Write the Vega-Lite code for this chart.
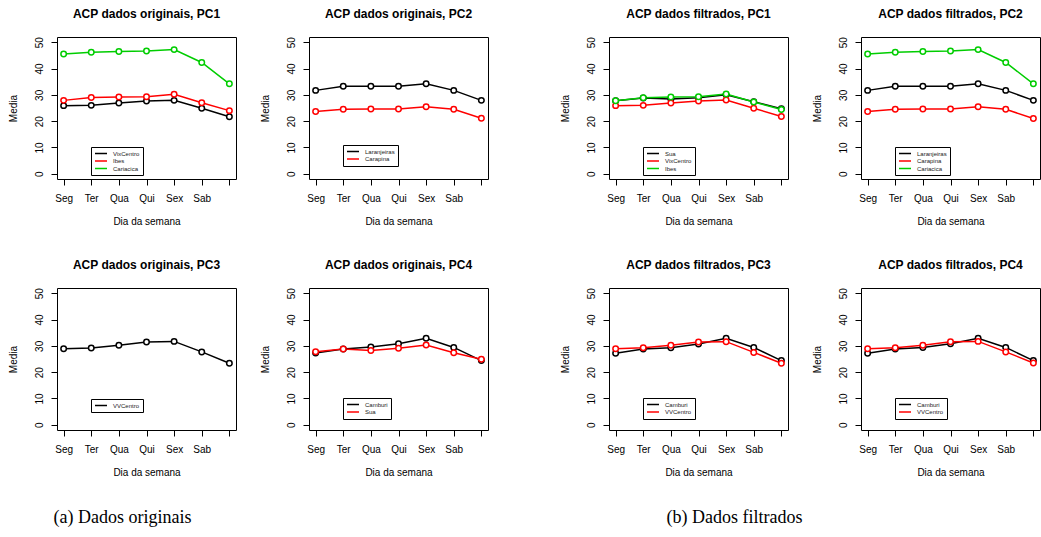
{
  "$schema": "https://vega.github.io/schema/vega-lite/v6.json",
  "background": "white",
  "padding": {"left": 7, "top": 7, "right": 0, "bottom": 0},
  "datasets": {
    "medias": [
      {"painel": "o1", "serie": "VixCentro", "dia": "Seg", "media": 25.9},
      {"painel": "o1", "serie": "VixCentro", "dia": "Ter", "media": 26.0},
      {"painel": "o1", "serie": "VixCentro", "dia": "Qua", "media": 26.9},
      {"painel": "o1", "serie": "VixCentro", "dia": "Qui", "media": 27.7},
      {"painel": "o1", "serie": "VixCentro", "dia": "Sex", "media": 27.9},
      {"painel": "o1", "serie": "VixCentro", "dia": "Sab", "media": 24.9},
      {"painel": "o1", "serie": "VixCentro", "dia": "Dom", "media": 21.7},
      {"painel": "o1", "serie": "Ibes", "dia": "Seg", "media": 27.9},
      {"painel": "o1", "serie": "Ibes", "dia": "Ter", "media": 29.0},
      {"painel": "o1", "serie": "Ibes", "dia": "Qua", "media": 29.2},
      {"painel": "o1", "serie": "Ibes", "dia": "Qui", "media": 29.3},
      {"painel": "o1", "serie": "Ibes", "dia": "Sex", "media": 30.2},
      {"painel": "o1", "serie": "Ibes", "dia": "Sab", "media": 27.0},
      {"painel": "o1", "serie": "Ibes", "dia": "Dom", "media": 24.0},
      {"painel": "o1", "serie": "Cariacica", "dia": "Seg", "media": 45.5},
      {"painel": "o1", "serie": "Cariacica", "dia": "Ter", "media": 46.2},
      {"painel": "o1", "serie": "Cariacica", "dia": "Qua", "media": 46.5},
      {"painel": "o1", "serie": "Cariacica", "dia": "Qui", "media": 46.7},
      {"painel": "o1", "serie": "Cariacica", "dia": "Sex", "media": 47.2},
      {"painel": "o1", "serie": "Cariacica", "dia": "Sab", "media": 42.3},
      {"painel": "o1", "serie": "Cariacica", "dia": "Dom", "media": 34.2},

      {"painel": "o2", "serie": "Laranjeiras", "dia": "Seg", "media": 31.7},
      {"painel": "o2", "serie": "Laranjeiras", "dia": "Ter", "media": 33.3},
      {"painel": "o2", "serie": "Laranjeiras", "dia": "Qua", "media": 33.3},
      {"painel": "o2", "serie": "Laranjeiras", "dia": "Qui", "media": 33.3},
      {"painel": "o2", "serie": "Laranjeiras", "dia": "Sex", "media": 34.2},
      {"painel": "o2", "serie": "Laranjeiras", "dia": "Sab", "media": 31.7},
      {"painel": "o2", "serie": "Laranjeiras", "dia": "Dom", "media": 27.9},
      {"painel": "o2", "serie": "Carapina", "dia": "Seg", "media": 23.7},
      {"painel": "o2", "serie": "Carapina", "dia": "Ter", "media": 24.5},
      {"painel": "o2", "serie": "Carapina", "dia": "Qua", "media": 24.6},
      {"painel": "o2", "serie": "Carapina", "dia": "Qui", "media": 24.6},
      {"painel": "o2", "serie": "Carapina", "dia": "Sex", "media": 25.5},
      {"painel": "o2", "serie": "Carapina", "dia": "Sab", "media": 24.5},
      {"painel": "o2", "serie": "Carapina", "dia": "Dom", "media": 21.1},

      {"painel": "o3", "serie": "VVCentro", "dia": "Seg", "media": 28.9},
      {"painel": "o3", "serie": "VVCentro", "dia": "Ter", "media": 29.2},
      {"painel": "o3", "serie": "VVCentro", "dia": "Qua", "media": 30.2},
      {"painel": "o3", "serie": "VVCentro", "dia": "Qui", "media": 31.5},
      {"painel": "o3", "serie": "VVCentro", "dia": "Sex", "media": 31.7},
      {"painel": "o3", "serie": "VVCentro", "dia": "Sab", "media": 27.7},
      {"painel": "o3", "serie": "VVCentro", "dia": "Dom", "media": 23.4},

      {"painel": "o4", "serie": "Camburi", "dia": "Seg", "media": 27.3},
      {"painel": "o4", "serie": "Camburi", "dia": "Ter", "media": 28.8},
      {"painel": "o4", "serie": "Camburi", "dia": "Qua", "media": 29.6},
      {"painel": "o4", "serie": "Camburi", "dia": "Qui", "media": 30.8},
      {"painel": "o4", "serie": "Camburi", "dia": "Sex", "media": 32.9},
      {"painel": "o4", "serie": "Camburi", "dia": "Sab", "media": 29.4},
      {"painel": "o4", "serie": "Camburi", "dia": "Dom", "media": 24.4},
      {"painel": "o4", "serie": "Sua", "dia": "Seg", "media": 27.8},
      {"painel": "o4", "serie": "Sua", "dia": "Ter", "media": 28.8},
      {"painel": "o4", "serie": "Sua", "dia": "Qua", "media": 28.2},
      {"painel": "o4", "serie": "Sua", "dia": "Qui", "media": 29.1},
      {"painel": "o4", "serie": "Sua", "dia": "Sex", "media": 30.3},
      {"painel": "o4", "serie": "Sua", "dia": "Sab", "media": 27.4},
      {"painel": "o4", "serie": "Sua", "dia": "Dom", "media": 24.9},

      {"painel": "f1", "serie": "Sua", "dia": "Seg", "media": 27.8},
      {"painel": "f1", "serie": "Sua", "dia": "Ter", "media": 28.8},
      {"painel": "f1", "serie": "Sua", "dia": "Qua", "media": 28.4},
      {"painel": "f1", "serie": "Sua", "dia": "Qui", "media": 28.9},
      {"painel": "f1", "serie": "Sua", "dia": "Sex", "media": 30.0},
      {"painel": "f1", "serie": "Sua", "dia": "Sab", "media": 27.4},
      {"painel": "f1", "serie": "Sua", "dia": "Dom", "media": 24.7},
      {"painel": "f1", "serie": "VixCentro", "dia": "Seg", "media": 25.9},
      {"painel": "f1", "serie": "VixCentro", "dia": "Ter", "media": 26.0},
      {"painel": "f1", "serie": "VixCentro", "dia": "Qua", "media": 26.9},
      {"painel": "f1", "serie": "VixCentro", "dia": "Qui", "media": 27.7},
      {"painel": "f1", "serie": "VixCentro", "dia": "Sex", "media": 28.0},
      {"painel": "f1", "serie": "VixCentro", "dia": "Sab", "media": 24.9},
      {"painel": "f1", "serie": "VixCentro", "dia": "Dom", "media": 21.8},
      {"painel": "f1", "serie": "Ibes", "dia": "Seg", "media": 27.8},
      {"painel": "f1", "serie": "Ibes", "dia": "Ter", "media": 28.9},
      {"painel": "f1", "serie": "Ibes", "dia": "Qua", "media": 29.2},
      {"painel": "f1", "serie": "Ibes", "dia": "Qui", "media": 29.3},
      {"painel": "f1", "serie": "Ibes", "dia": "Sex", "media": 30.3},
      {"painel": "f1", "serie": "Ibes", "dia": "Sab", "media": 27.3},
      {"painel": "f1", "serie": "Ibes", "dia": "Dom", "media": 24.4},

      {"painel": "f2", "serie": "Laranjeiras", "dia": "Seg", "media": 31.7},
      {"painel": "f2", "serie": "Laranjeiras", "dia": "Ter", "media": 33.3},
      {"painel": "f2", "serie": "Laranjeiras", "dia": "Qua", "media": 33.3},
      {"painel": "f2", "serie": "Laranjeiras", "dia": "Qui", "media": 33.3},
      {"painel": "f2", "serie": "Laranjeiras", "dia": "Sex", "media": 34.2},
      {"painel": "f2", "serie": "Laranjeiras", "dia": "Sab", "media": 31.7},
      {"painel": "f2", "serie": "Laranjeiras", "dia": "Dom", "media": 27.9},
      {"painel": "f2", "serie": "Carapina", "dia": "Seg", "media": 23.7},
      {"painel": "f2", "serie": "Carapina", "dia": "Ter", "media": 24.5},
      {"painel": "f2", "serie": "Carapina", "dia": "Qua", "media": 24.6},
      {"painel": "f2", "serie": "Carapina", "dia": "Qui", "media": 24.6},
      {"painel": "f2", "serie": "Carapina", "dia": "Sex", "media": 25.5},
      {"painel": "f2", "serie": "Carapina", "dia": "Sab", "media": 24.5},
      {"painel": "f2", "serie": "Carapina", "dia": "Dom", "media": 21.0},
      {"painel": "f2", "serie": "Cariacica", "dia": "Seg", "media": 45.5},
      {"painel": "f2", "serie": "Cariacica", "dia": "Ter", "media": 46.2},
      {"painel": "f2", "serie": "Cariacica", "dia": "Qua", "media": 46.5},
      {"painel": "f2", "serie": "Cariacica", "dia": "Qui", "media": 46.7},
      {"painel": "f2", "serie": "Cariacica", "dia": "Sex", "media": 47.2},
      {"painel": "f2", "serie": "Cariacica", "dia": "Sab", "media": 42.3},
      {"painel": "f2", "serie": "Cariacica", "dia": "Dom", "media": 34.2},

      {"painel": "f3", "serie": "Camburi", "dia": "Seg", "media": 27.2},
      {"painel": "f3", "serie": "Camburi", "dia": "Ter", "media": 28.8},
      {"painel": "f3", "serie": "Camburi", "dia": "Qua", "media": 29.3},
      {"painel": "f3", "serie": "Camburi", "dia": "Qui", "media": 30.7},
      {"painel": "f3", "serie": "Camburi", "dia": "Sex", "media": 32.9},
      {"painel": "f3", "serie": "Camburi", "dia": "Sab", "media": 29.4},
      {"painel": "f3", "serie": "Camburi", "dia": "Dom", "media": 24.4},
      {"painel": "f3", "serie": "VVCentro", "dia": "Seg", "media": 28.9},
      {"painel": "f3", "serie": "VVCentro", "dia": "Ter", "media": 29.3},
      {"painel": "f3", "serie": "VVCentro", "dia": "Qua", "media": 30.2},
      {"painel": "f3", "serie": "VVCentro", "dia": "Qui", "media": 31.5},
      {"painel": "f3", "serie": "VVCentro", "dia": "Sex", "media": 31.6},
      {"painel": "f3", "serie": "VVCentro", "dia": "Sab", "media": 27.5},
      {"painel": "f3", "serie": "VVCentro", "dia": "Dom", "media": 23.4},

      {"painel": "f4", "serie": "Camburi", "dia": "Seg", "media": 27.2},
      {"painel": "f4", "serie": "Camburi", "dia": "Ter", "media": 28.8},
      {"painel": "f4", "serie": "Camburi", "dia": "Qua", "media": 29.4},
      {"painel": "f4", "serie": "Camburi", "dia": "Qui", "media": 30.8},
      {"painel": "f4", "serie": "Camburi", "dia": "Sex", "media": 32.9},
      {"painel": "f4", "serie": "Camburi", "dia": "Sab", "media": 29.4},
      {"painel": "f4", "serie": "Camburi", "dia": "Dom", "media": 24.4},
      {"painel": "f4", "serie": "VVCentro", "dia": "Seg", "media": 28.9},
      {"painel": "f4", "serie": "VVCentro", "dia": "Ter", "media": 29.3},
      {"painel": "f4", "serie": "VVCentro", "dia": "Qua", "media": 30.2},
      {"painel": "f4", "serie": "VVCentro", "dia": "Qui", "media": 31.6},
      {"painel": "f4", "serie": "VVCentro", "dia": "Sex", "media": 31.7},
      {"painel": "f4", "serie": "VVCentro", "dia": "Sab", "media": 27.7},
      {"painel": "f4", "serie": "VVCentro", "dia": "Dom", "media": 23.5}
    ]
  },
  "resolve": {"scale": {"color": "independent"}, "legend": {"color": "independent"}},
  "spacing": 70,
  "hconcat": [
    {
      "title": {"text": "(a) Dados originais", "orient": "bottom", "anchor": "start", "font": "Liberation Serif", "fontSize": 18, "fontWeight": "normal", "offset": 31, "dx": 46},
      "spacing": 31,
      "resolve": {"scale": {"color": "independent"}, "legend": {"color": "independent"}},
      "vconcat": [
        {
          "spacing": 22,
          "resolve": {"scale": {"color": "independent"}, "legend": {"color": "independent"}},
          "hconcat": [
            {
              "width": 179, "height": 142,
              "title": "ACP dados originais, PC1",
              "data": {"name": "medias"},
              "transform": [{"filter": "datum.painel == 'o1'"}],
              "encoding": {
                "x": {"field": "dia", "type": "ordinal", "sort": ["Seg", "Ter", "Qua", "Qui", "Sex", "Sab", "Dom"], "scale": {"type": "point", "padding": 0.24}, "title": "Dia da semana"},
                "y": {"field": "media", "type": "quantitative", "scale": {"domain": [-2, 52], "nice": false, "zero": false}, "title": "Media"},
                "color": {"field": "serie", "type": "nominal", "scale": {"domain": ["VixCentro", "Ibes", "Cariacica"], "range": ["#000000", "#FF0000", "#00CD00"]}, "legend": {"legendX": 34, "legendY": 110}}
              },
              "layer": [
                {"mark": {"type": "line", "strokeWidth": 1.5}},
                {"mark": {"type": "point", "shape": "circle", "filled": false, "fill": "white", "fillOpacity": 1, "opacity": 1, "size": 30, "strokeWidth": 1.5}}
              ]
            },
            {
              "width": 179, "height": 142,
              "title": "ACP dados originais, PC2",
              "data": {"name": "medias"},
              "transform": [{"filter": "datum.painel == 'o2'"}],
              "encoding": {
                "x": {"field": "dia", "type": "ordinal", "sort": ["Seg", "Ter", "Qua", "Qui", "Sex", "Sab", "Dom"], "scale": {"type": "point", "padding": 0.24}, "title": "Dia da semana"},
                "y": {"field": "media", "type": "quantitative", "scale": {"domain": [-2, 52], "nice": false, "zero": false}, "title": "Media"},
                "color": {"field": "serie", "type": "nominal", "scale": {"domain": ["Laranjeiras", "Carapina"], "range": ["#000000", "#FF0000"]}, "legend": {"legendX": 34, "legendY": 108}}
              },
              "layer": [
                {"mark": {"type": "line", "strokeWidth": 1.5}},
                {"mark": {"type": "point", "shape": "circle", "filled": false, "fill": "white", "fillOpacity": 1, "opacity": 1, "size": 30, "strokeWidth": 1.5}}
              ]
            }
          ]
        },
        {
          "spacing": 22,
          "resolve": {"scale": {"color": "independent"}, "legend": {"color": "independent"}},
          "hconcat": [
            {
              "width": 179, "height": 142,
              "title": "ACP dados originais, PC3",
              "data": {"name": "medias"},
              "transform": [{"filter": "datum.painel == 'o3'"}],
              "encoding": {
                "x": {"field": "dia", "type": "ordinal", "sort": ["Seg", "Ter", "Qua", "Qui", "Sex", "Sab", "Dom"], "scale": {"type": "point", "padding": 0.24}, "title": "Dia da semana"},
                "y": {"field": "media", "type": "quantitative", "scale": {"domain": [-2, 52], "nice": false, "zero": false}, "title": "Media"},
                "color": {"field": "serie", "type": "nominal", "scale": {"domain": ["VVCentro"], "range": ["#000000"]}, "legend": {"legendX": 34, "legendY": 111}}
              },
              "layer": [
                {"mark": {"type": "line", "strokeWidth": 1.5}},
                {"mark": {"type": "point", "shape": "circle", "filled": false, "fill": "white", "fillOpacity": 1, "opacity": 1, "size": 30, "strokeWidth": 1.5}}
              ]
            },
            {
              "width": 179, "height": 142,
              "title": "ACP dados originais, PC4",
              "data": {"name": "medias"},
              "transform": [{"filter": "datum.painel == 'o4'"}],
              "encoding": {
                "x": {"field": "dia", "type": "ordinal", "sort": ["Seg", "Ter", "Qua", "Qui", "Sex", "Sab", "Dom"], "scale": {"type": "point", "padding": 0.24}, "title": "Dia da semana"},
                "y": {"field": "media", "type": "quantitative", "scale": {"domain": [-2, 52], "nice": false, "zero": false}, "title": "Media"},
                "color": {"field": "serie", "type": "nominal", "scale": {"domain": ["Camburi", "Sua"], "range": ["#000000", "#FF0000"]}, "legend": {"legendX": 34, "legendY": 110}}
              },
              "layer": [
                {"mark": {"type": "line", "strokeWidth": 1.5}},
                {"mark": {"type": "point", "shape": "circle", "filled": false, "fill": "white", "fillOpacity": 1, "opacity": 1, "size": 30, "strokeWidth": 1.5}}
              ]
            }
          ]
        }
      ]
    },
    {
      "title": {"text": "(b) Dados filtrados", "orient": "bottom", "anchor": "start", "font": "Liberation Serif", "fontSize": 18, "fontWeight": "normal", "offset": 31, "dx": 107},
      "spacing": 31,
      "resolve": {"scale": {"color": "independent"}, "legend": {"color": "independent"}},
      "vconcat": [
        {
          "spacing": 22,
          "resolve": {"scale": {"color": "independent"}, "legend": {"color": "independent"}},
          "hconcat": [
            {
              "width": 179, "height": 142,
              "title": "ACP dados filtrados, PC1",
              "data": {"name": "medias"},
              "transform": [{"filter": "datum.painel == 'f1'"}],
              "encoding": {
                "x": {"field": "dia", "type": "ordinal", "sort": ["Seg", "Ter", "Qua", "Qui", "Sex", "Sab", "Dom"], "scale": {"type": "point", "padding": 0.24}, "title": "Dia da semana"},
                "y": {"field": "media", "type": "quantitative", "scale": {"domain": [-2, 52], "nice": false, "zero": false}, "title": "Media"},
                "color": {"field": "serie", "type": "nominal", "scale": {"domain": ["Sua", "VixCentro", "Ibes"], "range": ["#000000", "#FF0000", "#00CD00"]}, "legend": {"legendX": 34, "legendY": 110}}
              },
              "layer": [
                {"mark": {"type": "line", "strokeWidth": 1.5}},
                {"mark": {"type": "point", "shape": "circle", "filled": false, "fill": "white", "fillOpacity": 1, "opacity": 1, "size": 30, "strokeWidth": 1.5}}
              ]
            },
            {
              "width": 179, "height": 142,
              "title": "ACP dados filtrados, PC2",
              "data": {"name": "medias"},
              "transform": [{"filter": "datum.painel == 'f2'"}],
              "encoding": {
                "x": {"field": "dia", "type": "ordinal", "sort": ["Seg", "Ter", "Qua", "Qui", "Sex", "Sab", "Dom"], "scale": {"type": "point", "padding": 0.24}, "title": "Dia da semana"},
                "y": {"field": "media", "type": "quantitative", "scale": {"domain": [-2, 52], "nice": false, "zero": false}, "title": "Media"},
                "color": {"field": "serie", "type": "nominal", "scale": {"domain": ["Laranjeiras", "Carapina", "Cariacica"], "range": ["#000000", "#FF0000", "#00CD00"]}, "legend": {"legendX": 34, "legendY": 110}}
              },
              "layer": [
                {"mark": {"type": "line", "strokeWidth": 1.5}},
                {"mark": {"type": "point", "shape": "circle", "filled": false, "fill": "white", "fillOpacity": 1, "opacity": 1, "size": 30, "strokeWidth": 1.5}}
              ]
            }
          ]
        },
        {
          "spacing": 22,
          "resolve": {"scale": {"color": "independent"}, "legend": {"color": "independent"}},
          "hconcat": [
            {
              "width": 179, "height": 142,
              "title": "ACP dados filtrados, PC3",
              "data": {"name": "medias"},
              "transform": [{"filter": "datum.painel == 'f3'"}],
              "encoding": {
                "x": {"field": "dia", "type": "ordinal", "sort": ["Seg", "Ter", "Qua", "Qui", "Sex", "Sab", "Dom"], "scale": {"type": "point", "padding": 0.24}, "title": "Dia da semana"},
                "y": {"field": "media", "type": "quantitative", "scale": {"domain": [-2, 52], "nice": false, "zero": false}, "title": "Media"},
                "color": {"field": "serie", "type": "nominal", "scale": {"domain": ["Camburi", "VVCentro"], "range": ["#000000", "#FF0000"]}, "legend": {"legendX": 34, "legendY": 110}}
              },
              "layer": [
                {"mark": {"type": "line", "strokeWidth": 1.5}},
                {"mark": {"type": "point", "shape": "circle", "filled": false, "fill": "white", "fillOpacity": 1, "opacity": 1, "size": 30, "strokeWidth": 1.5}}
              ]
            },
            {
              "width": 179, "height": 142,
              "title": "ACP dados filtrados, PC4",
              "data": {"name": "medias"},
              "transform": [{"filter": "datum.painel == 'f4'"}],
              "encoding": {
                "x": {"field": "dia", "type": "ordinal", "sort": ["Seg", "Ter", "Qua", "Qui", "Sex", "Sab", "Dom"], "scale": {"type": "point", "padding": 0.24}, "title": "Dia da semana"},
                "y": {"field": "media", "type": "quantitative", "scale": {"domain": [-2, 52], "nice": false, "zero": false}, "title": "Media"},
                "color": {"field": "serie", "type": "nominal", "scale": {"domain": ["Camburi", "VVCentro"], "range": ["#000000", "#FF0000"]}, "legend": {"legendX": 34, "legendY": 110}}
              },
              "layer": [
                {"mark": {"type": "line", "strokeWidth": 1.5}},
                {"mark": {"type": "point", "shape": "circle", "filled": false, "fill": "white", "fillOpacity": 1, "opacity": 1, "size": 30, "strokeWidth": 1.5}}
              ]
            }
          ]
        }
      ]
    }
  ],
  "config": {
    "font": "Liberation Sans",
    "view": {"stroke": "black", "strokeWidth": 1},
    "title": {"fontSize": 12, "fontWeight": "bold", "color": "black", "offset": 16, "font": "Liberation Sans"},
    "axis": {"grid": false, "domain": false, "tickColor": "black", "tickSize": 6, "labelColor": "black", "titleColor": "black", "labelFontSize": 10, "titleFontSize": 10, "titleFontWeight": "normal", "labelFont": "Liberation Sans", "titleFont": "Liberation Sans"},
    "axisX": {"labelAngle": 0, "labelPadding": 8, "titlePadding": 13, "labelExpr": "datum.label == 'Dom' ? '' : datum.label"},
    "axisY": {"values": [0, 10, 20, 30, 40, 50], "labelAngle": -90, "labelAlign": "center", "labelBaseline": "bottom", "labelPadding": 7, "titlePadding": 16},
    "legend": {"orient": "none", "title": null, "strokeColor": "black", "fillColor": "white", "padding": 3, "symbolType": "stroke", "symbolSize": 144, "symbolStrokeWidth": 1.5, "labelFontSize": 6, "labelColor": "#222222", "labelOffset": 5, "clipHeight": 7, "rowPadding": 0.5, "labelFont": "Liberation Sans"}
  }
}
